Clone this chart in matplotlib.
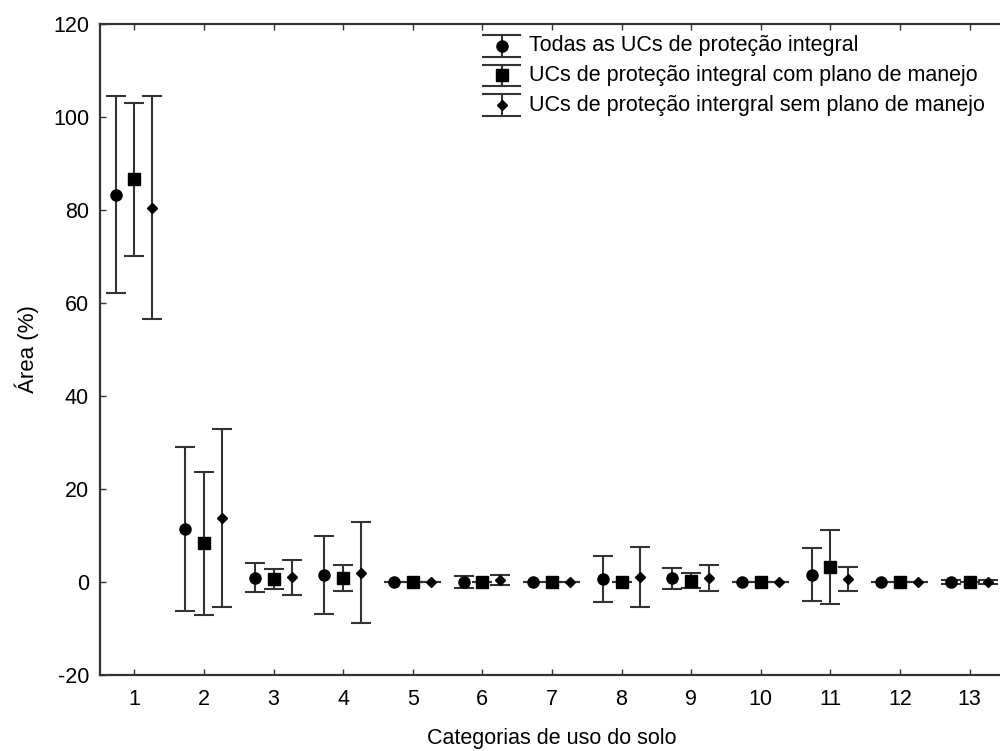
import matplotlib
matplotlib.use("Agg")
import matplotlib.pyplot as plt
from matplotlib.lines import Line2D
from matplotlib.legend_handler import HandlerBase
import numpy as np

plt.rcParams['font.family'] = ['Liberation Sans', 'DejaVu Sans']
plt.rcParams['axes.unicode_minus'] = False

# categories de uso do solo
cats = np.arange(1, 14)

# Todas as UCs
mean_all = [83.3, 11.4, 0.9, 1.5, 0.0, 0.0, 0.0, 0.6, 0.8, 0.0, 1.6, 0.0, 0.0]
err_all = [21.2, 17.6, 3.1, 8.4, 0.0, 1.2, 0.0, 4.9, 2.3, 0.0, 5.7, 0.0, 0.5]

# com plano de manejo
mean_com = [86.6, 8.3, 0.6, 0.9, 0.0, 0.0, 0.0, 0.0, 0.3, 0.0, 3.2, 0.0, 0.0]
err_com = [16.5, 15.4, 2.1, 2.8, 0.0, 0.0, 0.0, 0.0, 1.6, 0.0, 8.0, 0.0, 0.0]

# sem plano de manejo
mean_sem = [80.5, 13.8, 1.0, 2.0, 0.0, 0.4, 0.0, 1.0, 0.9, 0.0, 0.65, 0.0, 0.0]
err_sem = [24.0, 19.2, 3.7, 10.9, 0.0, 1.1, 0.0, 6.45, 2.8, 0.0, 2.5, 0.0, 0.4]

labels = ["Todas as UCs de proteção integral",
          "UCs de proteção integral com plano de manejo",
          "UCs de proteção intergral sem plano de manejo"]

ecol = '#333333'


# legend handle like the original: vertical bar, wide caps, marker in the middle
class ErrHandler(HandlerBase):
    def __init__(self, marker, ms):
        super().__init__()
        self.marker = marker
        self.ms = ms

    def create_artists(self, legend, orig_handle, xdescent, ydescent,
                       width, height, fontsize, trans):
        x0 = -xdescent
        cx = x0 + width / 2
        cy = -ydescent + height / 2 - 1.5
        h = 0.5 * fontsize
        bar = Line2D([cx, cx], [cy - h, cy + h], color=ecol, lw=1.5, transform=trans)
        cap1 = Line2D([x0, x0 + width], [cy - h, cy - h], color=ecol, lw=1.5, transform=trans)
        cap2 = Line2D([x0, x0 + width], [cy + h, cy + h], color=ecol, lw=1.5, transform=trans)
        mk = Line2D([cx], [cy], marker=self.marker, markersize=self.ms, color='black',
                    linestyle='none', transform=trans)
        return [bar, cap1, cap2, mk]


fig = plt.figure(figsize=(10, 7.51), dpi=100)
ax = fig.add_axes([0.0995, 0.1012, 0.9048, 0.8668])

kw = dict(linestyle='none', ecolor=ecol, elinewidth=1.5, capsize=7, capthick=1.5,
          color='black')
e1 = ax.errorbar(cats - 0.27, mean_all, yerr=err_all, fmt='o', markersize=8, **kw)
e2 = ax.errorbar(cats, mean_com, yerr=err_com, fmt='s', markersize=8.5, **kw)
e3 = ax.errorbar(cats + 0.26, mean_sem, yerr=err_sem, fmt='D', markersize=5.5, **kw)

ax.set_xlim(0.5, 13.5)
ax.set_ylim(-20, 120)
ax.set_xticks(cats)
ax.set_yticks(np.arange(-20, 121, 20))
ax.tick_params(direction='in', length=4, width=1, labelsize=15.5, top=True, right=False,
               colors=ecol, labelcolor='black')
ax.tick_params(axis='x', pad=10)
ax.tick_params(axis='y', pad=7.5)
for s in ax.spines.values():
    s.set_linewidth(1.6)
    s.set_color(ecol)

ax.set_xlabel('Categorias de uso do solo', fontsize=15.5, labelpad=13)
ax.set_ylabel('Área (%)', fontsize=16, labelpad=10)

fig.legend([e1, e2, e3], labels, loc='upper left', bbox_to_anchor=(0.483, 0.953),
           frameon=False, fontsize=15.5, labelspacing=0.4, handletextpad=0.4,
           borderpad=0, borderaxespad=0, handlelength=1.72,
           handler_map={e1: ErrHandler('o', 8), e2: ErrHandler('s', 8.5),
                        e3: ErrHandler('D', 5.5)})

fig.savefig('out.png', dpi=100)
